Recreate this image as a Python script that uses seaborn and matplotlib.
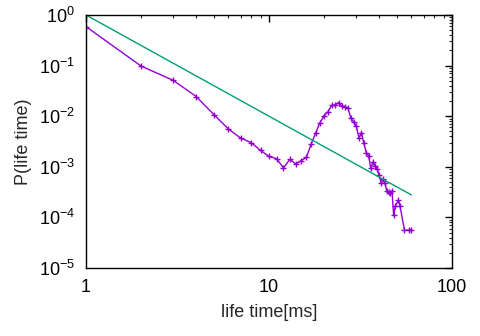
import numpy as np
import pandas as pd
import seaborn as sns
import matplotlib
matplotlib.use("Agg")
import matplotlib.pyplot as plt
from matplotlib.ticker import LogLocator, LogFormatterSciNotation, NullFormatter

# measured distribution of life times
life_ms = [1, 2, 3, 4, 5, 6, 7, 8, 9, 10, 11, 12, 13, 14, 15, 16, 17, 18, 19, 20,
           21, 22, 23, 24, 25, 26, 27, 28, 29, 30, 31, 32, 33, 34, 35, 36, 37, 38,
           39, 40, 41, 42, 43, 44, 45, 46, 47, 48, 49, 51, 52, 55, 58, 60]
prob = [0.59, 0.098, 0.051, 0.0245, 0.0107, 0.0056, 0.0037, 0.0030, 0.0021, 0.0016,
        0.00145, 0.00095, 0.0014, 0.00114, 0.00132, 0.00154, 0.0028, 0.0047, 0.0075,
        0.0102, 0.0123, 0.0163, 0.0168, 0.0186, 0.0160, 0.0155, 0.0145, 0.0092,
        0.0077, 0.0063, 0.0037, 0.0047, 0.0029, 0.0019, 0.00166, 0.00093, 0.00125,
        0.00105, 0.00090, 0.00068, 0.00048, 0.00057, 0.00047, 0.00034, 0.00032,
        0.00030, 0.00033, 0.00011, 0.000166, 0.00022, 0.000166, 5.6e-5, 5.6e-5, 5.6e-5]

# power-law reference x^-2
fit_x = [1, 60]
fit_y = [1.0, 1.0 / 3600.0]

df = pd.DataFrame({"t": life_ms, "p": prob})
fit = pd.DataFrame({"t": fit_x, "p": fit_y})

sns.set_style("white")
plt.rcParams["font.family"] = ["Liberation Sans", "DejaVu Sans"]
plt.rcParams["mathtext.fontset"] = "custom"
plt.rcParams["mathtext.rm"] = "Liberation Sans"

fig = plt.figure(figsize=(4.8, 3.36), dpi=100)
ax = fig.add_axes([86 / 480, 1 - 268 / 336, (452 - 86) / 480, (268 - 15) / 336])

sns.lineplot(data=df, x="t", y="p", ax=ax, color="#9400d3", lw=1,
             marker="+", markersize=5, markeredgewidth=1, markeredgecolor="#9400d3")
sns.lineplot(data=fit, x="t", y="p", ax=ax, color="#009e73", lw=1)

ax.set_xscale("log")
ax.set_yscale("log")
ax.set_xlim(1, 100)
ax.set_ylim(1e-5, 1)

ax.xaxis.set_major_locator(LogLocator(base=10))
ax.yaxis.set_major_locator(LogLocator(base=10, numticks=10))
ax.xaxis.set_minor_locator(LogLocator(base=10, subs=np.arange(2, 10)))
ax.yaxis.set_minor_locator(LogLocator(base=10, subs=np.arange(2, 10), numticks=20))
ax.xaxis.set_major_formatter(matplotlib.ticker.FuncFormatter(lambda v, p: f"{v:g}"))
ax.yaxis.set_major_formatter(LogFormatterSciNotation())
ax.xaxis.set_minor_formatter(NullFormatter())
ax.yaxis.set_minor_formatter(NullFormatter())

ax.tick_params(which="major", direction="in", length=5, width=1, top=True, right=True,
               labelsize=13, colors="black")
ax.tick_params(which="minor", direction="in", length=2.5, width=0.8, top=True, right=True)
ax.tick_params(axis="x", which="major", pad=8)
ax.tick_params(axis="y", which="major", pad=8)

for s in ax.spines.values():
    s.set_visible(True)
    s.set_color("black")
    s.set_linewidth(1)

ax.set_xlabel("life time[ms]", fontsize=13, labelpad=6)
ax.set_ylabel("P(life time)", fontsize=13, labelpad=5)
if ax.get_legend():
    ax.get_legend().remove()

fig.savefig("out.png", dpi=100)
